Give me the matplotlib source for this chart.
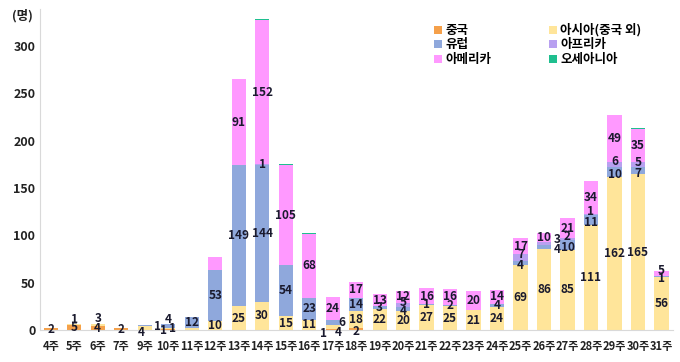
import numpy as np
import matplotlib.pyplot as plt

plt.rcParams['font.family'] = ['Noto Sans CJK KR', 'DejaVu Sans']

weeks = ['4주', '5주', '6주', '7주', '9주', '10주', '11주', '12주', '13주', '14주',
         '15주', '16주', '17주', '18주', '19주', '20주', '21주', '22주', '23주', '24주',
         '25주', '26주', '27주', '28주', '29주', '30주', '31주']

china   = [2, 5, 4, 2, 0, 1, 0, 0, 0, 0, 0, 0, 1, 2, 0, 0, 0, 0, 0, 0, 0, 0, 0, 0, 0, 0, 0]
asia    = [0, 1, 3, 0, 4, 1, 2, 10, 25, 30, 15, 11, 4, 18, 22, 20, 27, 25, 21, 24, 69, 86, 85, 111, 162, 165, 56]
europe  = [0, 0, 0, 0, 1, 4, 12, 53, 149, 144, 54, 23, 6, 14, 3, 4, 1, 2, 0, 4, 4, 4, 10, 11, 10, 7, 1]
africa  = [0, 0, 0, 0, 0, 0, 0, 0, 0, 1, 0, 0, 0, 0, 0, 5, 0, 0, 0, 0, 7, 3, 2, 1, 6, 5, 0]
america = [0, 0, 0, 0, 0, 0, 0, 14, 91, 152, 105, 68, 24, 17, 13, 12, 16, 16, 20, 14, 17, 10, 21, 34, 49, 35, 5]
oceania = [0, 0, 0, 0, 0, 0, 0, 0, 0, 1, 1, 1, 0, 0, 0, 0, 0, 0, 0, 0, 0, 0, 0, 0, 0, 1, 0]

# segments whose value label is hidden in the original
hidden = {('asia', 6), ('america', 7)}
# label nudges for crowded small segments (dx in bar units, dy in data units)
nudge = {
    ('asia', 1): (0, 6), ('asia', 2): (0, 7), ('europe', 5): (0, 7),
    ('asia', 4): (-0.15, -4), ('europe', 4): (0.55, -1), ('china', 5): (-0.2, -1),
    ('asia', 5): (0.2, 0),
    ('china', 12): (-0.4, -4), ('asia', 12): (0.25, -6), ('europe', 12): (0.4, 0),
    ('china', 13): (0, -2), ('africa', 15): (0, 3), ('europe', 15): (0, -2),
    ('europe', 21): (0.55, -3), ('africa', 21): (0.55, 4),
    ('europe', 20): (0, -3), ('africa', 20): (0, 3),
    ('europe', 22): (0, -3), ('africa', 22): (0, 3),
    ('europe', 23): (0, -3), ('africa', 23): (0, 3),
    ('europe', 24): (0, -3), ('africa', 24): (0, 3),
    ('europe', 25): (0, -3), ('africa', 25): (0, 3),
    ('europe', 26): (0, -2), ('america', 26): (0, 3),
}

series = [
    ('china', '중국', china, '#F5A04A'),
    ('asia', '아시아(중국 외)', asia, '#FFE59A'),
    ('europe', '유럽', europe, '#8FA8DC'),
    ('africa', '아프리카', africa, '#B8A0F0'),
    ('america', '아메리카', america, '#FF99FF'),
    ('oceania', '오세아니아', oceania, '#1FBF8F'),
]

fig, ax = plt.subplots(figsize=(6.8, 3.62), dpi=100)
fig.subplots_adjust(left=0.059, right=0.99, top=0.975, bottom=0.088)

x = np.arange(len(weeks))
bottom = np.zeros(len(weeks))
handles = {}
for key, name, vals, color in series:
    vals = np.array(vals, dtype=float)
    b = ax.bar(x, vals, 0.6, bottom=bottom, color=color, label=name)
    handles[key] = b
    if key != 'oceania':
        for i, v in enumerate(vals):
            if v > 0 and (key, i) not in hidden:
                dx, dy = nudge.get((key, i), (0, 0))
                ax.text(i + dx, bottom[i] + v / 2 + dy, str(int(v)), ha='center', va='center',
                        fontsize=8.5, fontweight='bold', color='#1a1a2e')
    bottom += vals

ax.set_xlim(-0.45, len(weeks) - 0.5)
ax.set_ylim(0, 339)
ax.set_yticks([0, 50, 100, 150, 200, 250, 300])
ax.set_xticks(x)
ax.set_xticklabels(weeks)
ax.tick_params(length=0, labelsize=9)
ax.tick_params(axis='x', pad=7, labelsize=8)
for lab in ax.get_xticklabels() + ax.get_yticklabels():
    lab.set_fontweight('bold')
    lab.set_color('#222222')
for side in ['top', 'right']:
    ax.spines[side].set_visible(False)
ax.spines['left'].set_color('#d9d9d9')
ax.spines['bottom'].set_color('#d9d9d9')

ax.text(-0.012, 1.0, '(명)', transform=ax.transAxes, ha='right', va='top',
        fontsize=9, fontweight='bold', color='#222222')

order = ['china', 'europe', 'america', 'asia', 'africa', 'oceania']
labels = {k: n for k, n, _, _ in series}
ax.legend([handles[k] for k in order], [labels[k] for k in order], ncol=2,
          frameon=False, loc='upper left', bbox_to_anchor=(0.605, 0.99),
          handlelength=0.6, handleheight=0.6, handletextpad=0.3,
          columnspacing=4.6, labelspacing=0.12, prop={'weight': 'bold', 'size': 9})

fig.savefig('out.png', dpi=100)
